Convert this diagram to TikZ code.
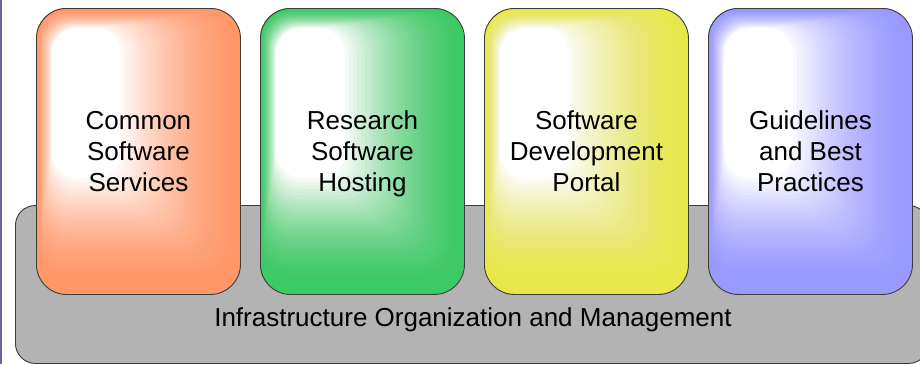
\documentclass[tikz,border=0pt]{standalone}
\usepackage{fontspec}
\setmainfont{Liberation Sans}
\definecolor{corange}{RGB}{255,151,102}
\definecolor{cgreen}{RGB}{60,202,100}
\definecolor{cyellow}{RGB}{232,232,74}
\definecolor{cblue}{RGB}{153,153,255}
\definecolor{cgray}{RGB}{179,179,179}
\definecolor{cedge}{RGB}{60,60,60}
\definecolor{cside}{RGB}{108,100,150}
\tikzset{
  lbl/.style={font=\fontsize{26}{31}\selectfont, align=center, text=black},
  boxedge/.style={draw=cedge, line width=0.9pt},
}
\newcommand{\glossbox}[4]{% name, x, color, text
  \begin{scope}
    \clip[rounded corners=30pt] (#2,8) rectangle ++(204,286);
    \fill[#3] (#2,8) rectangle ++(204,286);
    \foreach \k in {1,...,30}{
      \pgfmathsetmacro{\t}{\k/30}
      \pgfmathsetmacro{\cc}{(\k/30)^1.4}
      \pgfmathsetmacro{\cp}{((\k-1)/30)^1.4}
      \pgfmathsetmacro{\al}{(\cc-\cp)/(1-\cp)}
      \pgfmathsetmacro{\xa}{#2+0+16*\t}
      \pgfmathsetmacro{\ya}{8+1+19*\t}
      \pgfmathsetmacro{\xb}{#2+205-120*\t}
      \pgfmathsetmacro{\yb}{8+275-105*\t}
      \fill[white, fill opacity=\al, rounded corners=26pt] (\xa,\ya) rectangle (\xb,\yb);
    }
  \end{scope}
  \node[boxedge, rounded corners=30pt, minimum width=204pt, minimum height=286pt, anchor=north west, inner sep=0pt] (#1) at (#2,8) {};
  \node[lbl] (#1t) at ([yshift=-3pt]#1.center) {#4};
}
\begin{document}
\begin{tikzpicture}[x=1pt, y=-1pt]
\useasboundingbox (0,0) rectangle (920,364);
\fill[white] (0,0) rectangle (920,364);
\fill[cside] (0,0) rectangle (2.3,364);
\node[draw=cedge, fill=cgray, line width=0.9pt, rounded corners=20pt, minimum width=913pt, minimum height=158pt, anchor=north west, inner sep=0pt] (infra) at (15,205) {};
\glossbox{css}{36}{corange}{\strut Common\\Software\\Services\strut}
\glossbox{rsh}{260}{cgreen}{\strut Research\\Software\\Hosting\strut}
\glossbox{sdp}{484}{cyellow}{\strut Software\\Development\\Portal\strut}
\glossbox{gbp}{708}{cblue}{\strut Guidelines\\and Best\\Practices\strut}
\node[lbl] (infrat) at (473,320) {Infrastructure Organization and Management};
\end{tikzpicture}
\end{document}
